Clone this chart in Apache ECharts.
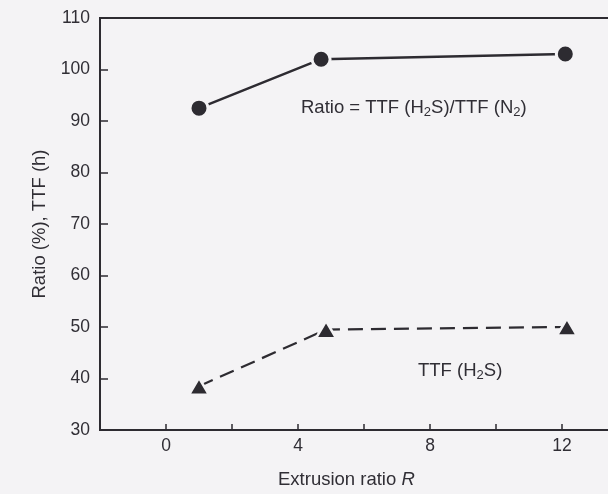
<!DOCTYPE html>
<html>
<head>
<meta charset="utf-8">
<script src="https://cdn.jsdelivr.net/npm/echarts@6/dist/echarts.min.js"></script>
<style>
  html, body { margin: 0; padding: 0; background: #f4f3f5; }
  #chart { width: 608px; height: 494px; }
</style>
</head>
<body>
<div id="chart"></div>
<script>
// Extrusion ratio R for each specimen
const ratioR = [1.0, 4.7, 12.1];
const ttfR = [1.0, 4.85, 12.15];
// Ratio = TTF(H2S)/TTF(N2), %
const ratioValues = [92.5, 102, 103];
// Time to failure in H2S, h
const ttfValues = [38.5, 49.5, 50];
// Axis ticks
const yTicks = [30, 40, 50, 60, 70, 80, 90, 100, 110];
const xLabelTicks = [0, 4, 8, 12];

const bg = '#f4f3f5';
const ink = '#2d2b31';
const textInk = '#302e35';
const font = '"Liberation Sans", Arial, sans-serif';

const chart = echarts.init(document.getElementById('chart'), null, { renderer: 'canvas' });

const base = { fontSize: 18.5, lineHeight: 22, fontFamily: font, fontWeight: 'normal', color: textInk };
const sub = Object.assign({}, base, { fontSize: 13, lineHeight: 13, verticalAlign: 'bottom' });

chart.setOption({
  backgroundColor: bg,
  animation: false,
  title: [
    {
      text: 'Ratio = TTF (H{s|2}S)/TTF (N{s|2})',
      left: 301, top: 97, padding: 0,
      textStyle: Object.assign({}, base, { rich: { s: sub } })
    },
    {
      text: 'TTF (H{s|2}S)',
      left: 418, top: 360, padding: 0,
      textStyle: Object.assign({}, base, { rich: { s: sub } })
    },
    {
      text: 'Extrusion ratio {it|R}',
      left: 278, top: 469, padding: 0,
      textStyle: Object.assign({}, base, { rich: { it: Object.assign({}, base, { fontStyle: 'italic' }) } })
    }
  ],
  grid: {
    left: 100, top: 18, width: 528, height: 412,
    outerBoundsMode: 'none',
    show: true, borderColor: ink, borderWidth: 2, backgroundColor: 'transparent'
  },
  xAxis: {
    type: 'value', min: -2, max: 14, interval: 2,
    axisLine: { onZero: false, lineStyle: { color: ink, width: 2 } },
    axisTick: { inside: true, length: 6, lineStyle: { color: ink, width: 1.5 } },
    splitLine: { show: false },
    axisLabel: {
      margin: 7, fontSize: 17.5, fontFamily: font, color: textInk,
      formatter: v => xLabelTicks.includes(v) ? String(v) : ''
    }
  },
  yAxis: {
    type: 'value', min: yTicks[0], max: yTicks[yTicks.length - 1], interval: 10,
    name: 'Ratio (%), TTF (h)', nameLocation: 'middle', nameGap: 44,
    nameTextStyle: { fontSize: 18.5, fontFamily: font, color: textInk },
    axisLine: { onZero: false, lineStyle: { color: ink, width: 2 } },
    axisTick: { inside: true, length: 8, lineStyle: { color: ink, width: 1.5 } },
    splitLine: { show: false },
    axisLabel: { margin: 10, fontSize: 17.5, fontFamily: font, color: textInk }
  },
  series: [
    {
      type: 'line',
      data: ratioR.map((r, i) => [r, ratioValues[i]]),
      symbol: 'circle', symbolSize: 18,
      itemStyle: { color: ink, borderColor: bg, borderWidth: 3 },
      lineStyle: { color: ink, width: 2.5 },
      z: 3
    },
    {
      type: 'line',
      data: ttfR.map((r, i) => [r, ttfValues[i]]),
      symbol: 'triangle', symbolSize: [20, 17],
      itemStyle: { color: ink, borderColor: bg, borderWidth: 2.5 },
      lineStyle: { color: ink, width: 2.2, type: [15, 8] },
      z: 3
    }
  ]
});
</script>
</body>
</html>
